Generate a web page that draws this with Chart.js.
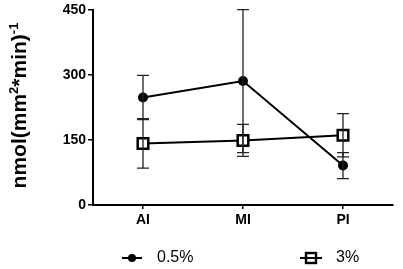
<!DOCTYPE html>
<html>
<head>
<meta charset="utf-8">
<script src="https://cdn.jsdelivr.net/npm/chart.js@4"></script>
<style>
    html, body { margin: 0; padding: 0; background: #fff; }
    #wrap { width: 403px; height: 269px; }
</style>
</head>
<body>
<div id="wrap"><canvas id="chart" width="403" height="269"></canvas></div>
<script>
const categories = ['AI', 'MI', 'PI'];
const series05 = [248, 286, 91];
const err05 = [51, 165, 30];
const series3 = [142, 149, 161];
const err3 = [57, 37, 50];
const yTicks = [0, 150, 300, 450];

const FONT = "'Liberation Sans', Arial, sans-serif";

// vertical error bars with caps, drawn on top of the markers
const errorBars = {
    id: 'errorBars',
    afterDatasetsDraw(chart) {
        const ctx = chart.ctx;
        const yScale = chart.scales.y;
        ctx.save();
        ctx.strokeStyle = '#222';
        ctx.lineWidth = 1.3;
        chart.data.datasets.forEach((ds, di) => {
            const meta = chart.getDatasetMeta(di);
            meta.data.forEach((pt, i) => {
                const top = yScale.getPixelForValue(ds.data[i] + ds.errors[i]);
                const bot = yScale.getPixelForValue(ds.data[i] - ds.errors[i]);
                ctx.beginPath();
                ctx.moveTo(pt.x, top);
                ctx.lineTo(pt.x, bot);
                ctx.moveTo(pt.x - 6, top);
                ctx.lineTo(pt.x + 6, top);
                ctx.moveTo(pt.x - 6, bot);
                ctx.lineTo(pt.x + 6, bot);
                ctx.stroke();
            });
        });
        ctx.restore();
    }
};

// y title with real superscripts, plus the bottom legend
const extras = {
    id: 'extras',
    afterDraw(chart) {
        const ctx = chart.ctx;
        ctx.save();
        // axis title
        const parts = [
            ['nmol(mm', false], ['2', true], ['*min)', false], ['-1', true]
        ];
        const big = 'bold 21px ' + FONT, small = 'bold 13px ' + FONT;
        let total = 0;
        parts.forEach(p => { ctx.font = p[1] ? small : big; total += ctx.measureText(p[0]).width; });
        const area = chart.chartArea;
        ctx.translate(26, (area.top + area.bottom) / 2 - 2);
        ctx.rotate(-Math.PI / 2);
        ctx.fillStyle = '#000';
        ctx.textBaseline = 'alphabetic';
        let x = -total / 2;
        parts.forEach(p => {
            ctx.font = p[1] ? small : big;
            ctx.fillText(p[0], x, p[1] ? -8 : 0);
            x += ctx.measureText(p[0]).width;
        });
        ctx.restore();

        // legend
        ctx.save();
        const ly = 258;
        const items = [
            { x0: 122, x1: 142, label: '0.5%', tx: 157, ds: chart.data.datasets[0] },
            { x0: 300, x1: 322, label: '3%', tx: 336, ds: chart.data.datasets[1] }
        ];
        items.forEach(it => {
            ctx.strokeStyle = '#000';
            ctx.lineWidth = 2;
            const cx = (it.x0 + it.x1) / 2;
            if (it.ds.pointStyle === 'rect') {
                ctx.fillStyle = '#fff';
                ctx.lineWidth = 2.4;
                ctx.fillRect(cx - 5, ly - 5, 10, 10);
                ctx.strokeRect(cx - 5, ly - 5, 10, 10);
                ctx.lineWidth = 2;
                ctx.beginPath();
                ctx.moveTo(it.x0, ly);
                ctx.lineTo(it.x1, ly);
                ctx.stroke();
            } else {
                ctx.beginPath();
                ctx.moveTo(it.x0, ly);
                ctx.lineTo(it.x1, ly);
                ctx.stroke();
                ctx.fillStyle = '#000';
                ctx.beginPath();
                ctx.arc(cx, ly, 4, 0, Math.PI * 2);
                ctx.fill();
            }
            ctx.fillStyle = '#000';
            ctx.font = '16px ' + FONT;
            ctx.textBaseline = 'middle';
            ctx.fillText(it.label, it.tx, ly);
        });
        ctx.restore();
    }
};

new Chart(document.getElementById('chart'), {
    type: 'line',
    data: {
        labels: categories,
        datasets: [{
            label: '0.5%',
            data: series05,
            errors: err05,
            borderColor: '#000',
            borderWidth: 2,
            pointStyle: 'circle',
            pointRadius: 5,
            pointBackgroundColor: '#000',
            pointBorderColor: '#000',
            pointBorderWidth: 0
        }, {
            label: '3%',
            data: series3,
            errors: err3,
            borderColor: '#000',
            borderWidth: 2,
            pointStyle: 'rect',
            pointRadius: 7.5,
            pointBackgroundColor: '#fff',
            pointBorderColor: '#000',
            pointBorderWidth: 2.5
        }]
    },
    options: {
        responsive: false,
        animation: false,
        layout: { padding: { left: 0, right: 5, top: 7, bottom: 0 } },
        plugins: {
            legend: { display: false },
            tooltip: { enabled: false }
        },
        scales: {
            x: {
                type: 'category',
                offset: true,
                grid: { drawOnChartArea: false, offset: false, tickLength: 4, color: '#000', lineWidth: 1.5 },
                border: { color: '#000', width: 2 },
                ticks: { color: '#000', padding: 3, font: { family: FONT, size: 14, weight: 'bold' } },
                afterFit(scale) { scale.height = 64; scale.paddingLeft = 0; scale.paddingRight = 0; }
            },
            y: {
                min: 0,
                max: 450,
                afterBuildTicks(scale) { scale.ticks = yTicks.map(v => ({ value: v })); },
                grid: { drawOnChartArea: false, tickLength: 5, color: '#000', lineWidth: 1.5 },
                border: { color: '#000', width: 2 },
                ticks: { color: '#000', padding: 2, font: { family: FONT, size: 14, weight: 'bold' } },
                afterFit(scale) { scale.width = 93; scale.paddingTop = 0; scale.paddingBottom = 0; }
            }
        }
    },
    plugins: [errorBars, extras]
});
</script>
</body>
</html>
